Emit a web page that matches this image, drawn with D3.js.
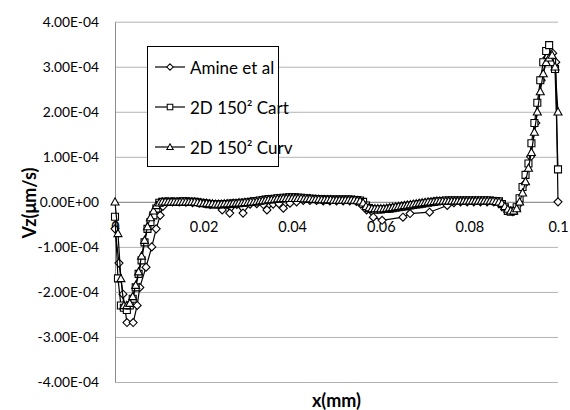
<!DOCTYPE html>
<html>
<head>
<meta charset="utf-8">
<script src="https://cdn.jsdelivr.net/npm/d3@7"></script>
<style>
body { margin: 0; background: #fff; }
svg { display: block; font-family: Lato, "Liberation Sans", sans-serif; }
</style>
</head>
<body>
<script>
const width = 570;
const height = 410;

// axis ticks (Vz values are in units of 1e-4 um/s)
const xTicks = [0, 0.02, 0.04, 0.06, 0.08, 0.1];
const xTickLabels = ["0", "0.02", "0.04", "0.06", "0.08", "0.1"];
const yTicks = [-4, -3, -2, -1, 0, 1, 2, 3, 4];
const yTickLabels = ["-4.00E-04", "-3.00E-04", "-2.00E-04", "-1.00E-04", "0.00E+00",
                     "1.00E-04", "2.00E-04", "3.00E-04", "4.00E-04"];
const seriesNames = ["Amine et al", "2D 150\u00B2 Cart", "2D 150\u00B2 Curv"];

// 150 cell grid, x in mm
const gridX = [
  0,0.00067,0.00133,0.002,0.00267,0.00333,0.004,0.00467,0.00533,0.006,0.00667,0.00733,0.008,0.00867,0.00933,
  0.01,0.01067,0.01133,0.012,0.01267,0.01333,0.014,0.01467,0.01533,0.016,0.01667,0.01733,0.018,0.01867,0.01933,
  0.02,0.02067,0.02133,0.022,0.02267,0.02333,0.024,0.02467,0.02533,0.026,0.02667,0.02733,0.028,0.02867,0.02933,
  0.03,0.03067,0.03133,0.032,0.03267,0.03333,0.034,0.03467,0.03533,0.036,0.03667,0.03733,0.038,0.03867,0.03933,
  0.04,0.04067,0.04133,0.042,0.04267,0.04333,0.044,0.04467,0.04533,0.046,0.04667,0.04733,0.048,0.04867,0.04933,
  0.05,0.05067,0.05133,0.052,0.05267,0.05333,0.054,0.05467,0.05533,0.056,0.05667,0.05733,0.058,0.05867,0.05933,
  0.06,0.06067,0.06133,0.062,0.06267,0.06333,0.064,0.06467,0.06533,0.066,0.06667,0.06733,0.068,0.06867,0.06933,
  0.07,0.07067,0.07133,0.072,0.07267,0.07333,0.074,0.07467,0.07533,0.076,0.07667,0.07733,0.078,0.07867,0.07933,
  0.08,0.08067,0.08133,0.082,0.08267,0.08333,0.084,0.08467,0.08533,0.086,0.08667,0.08733,0.088,0.08867,0.08933,
  0.09,0.09067,0.09133,0.092,0.09267,0.09333,0.094,0.09467,0.09533,0.096,0.09667,0.09733,0.098,0.09867,0.09933,
  0.1
];

const cartV = [
  -0.33,-1.7,-2.3,-2.35,-2.4,-2.3,-2.15,-1.9,-1.6,-1.3,-0.9,-0.6,-0.45,-0.3,-0.15,
  -0.02,0,0,0,0,0,0,0,0.01,0.01,0,0,0,-0.01,-0.02,
  -0.03,-0.04,-0.05,-0.05,-0.06,-0.06,-0.05,-0.05,-0.05,-0.04,-0.04,-0.03,-0.03,-0.02,-0.02,
  -0.01,0,0.01,0.02,0.03,0.04,0.05,0.06,0.06,0.07,0.08,0.08,0.09,0.09,0.1,
  0.1,0.1,0.09,0.09,0.08,0.08,0.07,0.07,0.06,0.06,0.06,0.05,0.05,0.05,0.05,
  0.05,0.05,0.05,0.05,0.05,0.05,0.04,0.04,0.03,0,-0.08,-0.14,-0.16,-0.17,-0.17,
  -0.17,-0.16,-0.16,-0.15,-0.14,-0.13,-0.12,-0.11,-0.1,-0.09,-0.08,-0.07,-0.06,-0.05,-0.04,
  -0.03,-0.02,-0.01,0,0.01,0.02,0.02,0.03,0.03,0.03,0.03,0.03,0.03,0.03,0.03,
  0.03,0.03,0.03,0.03,0.03,0.03,0.03,0.03,0.02,0.02,0.01,-0.05,-0.12,-0.2,-0.22,
  -0.2,-0.12,0.08,0.33,0.6,0.85,1.3,1.75,2.2,2.7,3.1,3.35,3.48,3.1,2.95,
  0.72
];

const curvV = [
  0,-0.7,-1.7,-2.3,-2.3,-2.25,-2.1,-1.85,-1.55,-1.2,-0.85,-0.55,-0.35,-0.2,-0.08,
  -0.02,0,0,0,0,0,0,0,0,0,0,0,0,-0.01,-0.02,
  -0.03,-0.03,-0.04,-0.04,-0.05,-0.05,-0.05,-0.04,-0.04,-0.04,-0.03,-0.03,-0.02,-0.02,-0.01,
  -0.01,0,0,0.01,0.02,0.03,0.04,0.05,0.05,0.06,0.07,0.07,0.08,0.08,0.08,
  0.08,0.08,0.08,0.08,0.07,0.07,0.07,0.06,0.06,0.06,0.05,0.05,0.05,0.05,0.04,
  0.04,0.04,0.04,0.04,0.04,0.04,0.04,0.03,0.02,-0.02,-0.1,-0.13,-0.15,-0.15,-0.15,
  -0.15,-0.15,-0.14,-0.13,-0.12,-0.11,-0.1,-0.09,-0.08,-0.07,-0.06,-0.05,-0.04,-0.03,-0.02,
  -0.01,0,0,0.01,0.02,0.02,0.02,0.02,0.02,0.02,0.02,0.02,0.02,0.02,0.02,
  0.02,0.02,0.02,0.02,0.02,0.02,0.02,0.02,0.02,0.01,0,-0.03,-0.1,-0.16,-0.2,
  -0.2,-0.15,0,0.2,0.45,0.75,1.1,1.55,2,2.45,2.85,3.1,3.2,3.26,3,
  2
];

const amineX = [
  0,0.0009,0.0018,0.0027,0.0041,0.005,0.0056,0.007,0.0083,0.0093,0.0102,0.0108,0.0117,
  0.013,0.0145,0.016,0.0175,0.019,0.0205,0.0215,0.0242,0.0253,0.0259,0.0275,0.0289,
  0.0305,0.032,0.0335,0.0343,0.0357,0.037,0.038,0.0395,0.041,0.0425,0.044,0.0455,
  0.047,0.0485,0.05,0.0515,0.053,0.0545,0.0555,0.0568,0.0583,0.0603,0.065,0.0666,
  0.071,0.075,0.0765,0.078,0.0795,0.081,0.0825,0.084,0.0855,0.087,0.0885,0.0898,
  0.0912,0.0925,0.0938,0.095,0.0962,0.0975,0.0988,0.0995,0.1
];
const amineV = [
  -0.6,-1.36,-2.05,-2.68,-2.68,-2.3,-1.9,-1.45,-1,-0.6,-0.3,-0.1,0,
  0,0,-0.01,-0.02,-0.03,-0.04,-0.06,-0.18,-0.06,-0.25,-0.06,-0.25,
  -0.05,-0.04,-0.06,-0.18,-0.05,-0.04,-0.14,-0.03,0,0.03,0.03,0.03,
  0.02,0.02,0.02,0.02,0.02,0.01,-0.05,-0.18,-0.34,-0.41,-0.34,-0.26,
  -0.23,-0.08,-0.02,0,0,0,0,0,0,-0.03,-0.18,-0.22,
  -0.05,0.4,1,1.75,2.7,3.2,3.3,3.1,0
];

const plot = {left: 115, right: 558, top: 21.7, bottom: 382};

const x = d3.scaleLinear().domain([0, 0.1]).range([plot.left, plot.right]);
const y = d3.scaleLinear().domain([-4, 4]).range([plot.bottom, plot.top]);

const svg = d3.select(document.body).append("svg")
    .attr("width", width)
    .attr("height", height);

// gridlines
svg.append("g")
    .attr("transform", `translate(${plot.left},0)`)
    .call(d3.axisLeft(y).tickValues(yTicks).tickSize(-(plot.right - plot.left)).tickFormat(""))
    .call(g => g.select(".domain").remove())
    .call(g => g.selectAll("line").attr("stroke", "#b3b3b3"));

// y axis
svg.append("g")
    .attr("transform", `translate(${plot.left},0)`)
    .call(d3.axisLeft(y).tickValues(yTicks).tickSize(0).tickPadding(16)
        .tickFormat((d, i) => yTickLabels[i]))
    .call(g => g.select(".domain").attr("stroke", "#8c8c8c"))
    .call(g => g.selectAll("text").attr("font-size", 13.8).attr("fill", "#000")
        .attr("font-family", "Lato, 'Liberation Sans', sans-serif"));

// x axis crossing at zero
svg.append("g")
    .attr("transform", `translate(0,${y(0)})`)
    .call(d3.axisBottom(x).tickValues(xTicks).tickSize(0).tickPadding(20)
        .tickFormat((d, i) => xTickLabels[i]))
    .call(g => g.select(".domain").attr("stroke", "#8c8c8c"))
    .call(g => g.selectAll("text").attr("font-size", 14.5).attr("fill", "#000")
        .attr("font-family", "Lato, 'Liberation Sans', sans-serif"));

// axis titles
svg.append("text")
    .attr("x", (plot.left + plot.right) / 2)
    .attr("y", 400)
    .attr("text-anchor", "middle")
    .attr("dominant-baseline", "central")
    .attr("font-weight", "bold")
    .attr("font-size", 18)
    .text("x(mm)");

svg.append("text")
    .attr("transform", "translate(29,203) rotate(-90)")
    .attr("text-anchor", "middle")
    .attr("dominant-baseline", "central")
    .attr("font-weight", "bold")
    .attr("font-size", 18)
    .text("Vz(\u03BCm/s)");

// marker shapes
const markers = [
    "M0,-4L4,0L0,4L-4,0Z",
    "M-3.5,-3.5H3.5V3.5H-3.5Z",
    "M0,-4L4,3.2H-4Z"
];

const series = [
    {name: seriesNames[0], xs: amineX, vs: amineV, marker: markers[0]},
    {name: seriesNames[1], xs: gridX, vs: cartV, marker: markers[1]},
    {name: seriesNames[2], xs: gridX, vs: curvV, marker: markers[2]}
];

const line = d3.line().x(d => x(d[0])).y(d => y(d[1]));

series.forEach(s => {
    const pts = s.vs.map((v, i) => [s.xs[i], v]);
    const g = svg.append("g");
    g.append("path")
        .datum(pts)
        .attr("d", line)
        .attr("fill", "none")
        .attr("stroke", "#000")
        .attr("stroke-width", 1.2);
    g.selectAll("path.m")
        .data(pts)
        .join("path")
        .attr("class", "m")
        .attr("d", s.marker)
        .attr("transform", d => `translate(${x(d[0])},${y(d[1])})`)
        .attr("fill", "#fff")
        .attr("stroke", "#000")
        .attr("stroke-width", 1.1);
});

// legend
const legend = svg.append("g");
legend.append("rect")
    .attr("x", 147.5).attr("y", 46.5)
    .attr("width", 131).attr("height", 120)
    .attr("fill", "#fff")
    .attr("stroke", "#000")
    .attr("stroke-width", 1);

const rowY = [67, 107, 147];
series.forEach((s, i) => {
    const r = legend.append("g").attr("transform", `translate(0,${rowY[i]})`);
    r.append("line").attr("x1", 155).attr("x2", 185)
        .attr("stroke", "#000").attr("stroke-width", 1.2);
    r.append("path").attr("d", s.marker)
        .attr("transform", "translate(170,0) scale(0.8)")
        .attr("fill", "#fff").attr("stroke", "#000").attr("stroke-width", 1.3);
    r.append("text").attr("x", 190)
        .attr("dominant-baseline", "central")
        .attr("font-size", 17)
        .text(s.name);
});
</script>
</body>
</html>
